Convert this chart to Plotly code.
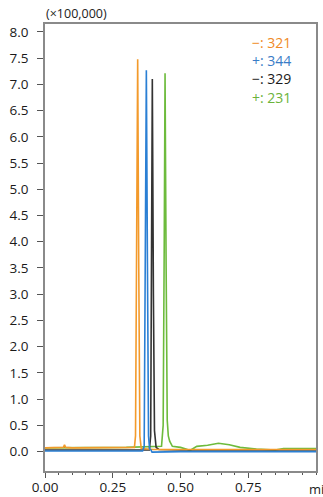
import plotly.graph_objects as go

# ---- data ----
t_321 = [0, 0.05, 0.068, 0.072, 0.076, 0.1, 0.2, 0.3, 0.33, 0.334, 0.338, 0.342, 0.346, 0.35, 0.355, 0.4, 0.5, 0.6, 0.7, 0.8, 0.9, 1.0]
y_321 = [0.07, 0.07, 0.08, 0.13, 0.08, 0.07, 0.07, 0.08, 0.08, 0.3, 4.0, 7.48, 3.5, 0.3, 0.06, 0.04, 0.04, 0.04, 0.04, 0.04, 0.04, 0.04]

t_344 = [0, 0.2, 0.36, 0.366, 0.370, 0.374, 0.378, 0.382, 0.386, 0.39, 0.395, 0.5, 0.7, 1.0]
y_344 = [0.01, 0.01, 0.01, 0.1, 3.8, 7.27, 3.6, 0.3, 0.05, 0.04, -0.01, 0.0, 0.0, 0.0]

t_329 = [0, 0.2, 0.385, 0.39, 0.393, 0.396, 0.4, 0.404, 0.41, 0.42, 0.5, 0.6, 0.8, 1.0]
y_329 = [0.03, 0.03, 0.03, 0.3, 4.0, 7.10, 3.0, 0.4, 0.08, 0.04, 0.03, 0.03, 0.03, 0.03]

t_231 = [0, 0.1, 0.3, 0.43, 0.436, 0.44, 0.443, 0.447, 0.451, 0.455, 0.46, 0.47, 0.5, 0.52, 0.535, 0.56, 0.6, 0.64, 0.68, 0.72, 0.78, 0.85, 0.88, 0.95, 1.0]
y_231 = [0.07, 0.07, 0.08, 0.1, 0.5, 4.0, 7.21, 3.5, 0.6, 0.3, 0.2, 0.1, 0.08, 0.05, 0.02, 0.1, 0.12, 0.16, 0.13, 0.08, 0.05, 0.03, 0.06, 0.06, 0.06]

legend_labels = ["−: 321", "+: 344", "−: 329", "+: 231"]

x_ticks = [0.0, 0.25, 0.5, 0.75]
x_ticklabels = ["0.00", "0.25", "0.50", "0.75"]
y_ticks = [0.0, 0.5, 1.0, 1.5, 2.0, 2.5, 3.0, 3.5, 4.0, 4.5, 5.0, 5.5, 6.0, 6.5, 7.0, 7.5, 8.0]

colors = ["#F39A2B", "#2A7FD4", "#333333", "#6DBB3C"]
text_colors = ["#F08A26", "#3A7CC7", "#1a1a1a", "#6BB33A"]

series = [(t_321, y_321), (t_344, y_344), (t_329, y_329), (t_231, y_231)]

fig = go.Figure()
# draw order: green and black below, orange/blue on top
for idx in [3, 2, 0, 1]:
    t, y = series[idx]
    fig.add_trace(go.Scatter(x=t, y=y, mode="lines",
                             line=dict(color=colors[idx], width=1.6),
                             showlegend=False, hoverinfo="skip"))

font = "Open Sans, Noto Sans, sans-serif"

legend_text = "<br>".join(
    f"<span style='color:{c}'>{lbl}</span>" for lbl, c in zip(legend_labels, text_colors)
)
fig.add_annotation(x=0.756, y=7.82, xref="x", yref="y", text=legend_text,
                   showarrow=False, xanchor="left", yanchor="top", yshift=10,
                   align="left",
                   font=dict(family=font, size=14))

fig.add_annotation(x=-0.005, y=1.0, xref="paper", yref="paper", text="(×100,000)",
                   showarrow=False, xanchor="left", yanchor="bottom", yshift=0,
                   font=dict(family=font, size=12.5, color="#222"))
fig.add_annotation(x=0.968, y=0, xref="paper", yref="paper", text="min",
                   showarrow=False, xanchor="left", yanchor="top", yshift=-7,
                   font=dict(family=font, size=13, color="#222"))

fig.update_layout(
    width=323, height=497,
    margin=dict(l=45, r=7, t=24, b=26),
    paper_bgcolor="white", plot_bgcolor="white",
    font=dict(family=font, size=13, color="#1a1a1a"),
    xaxis=dict(range=[0, 1.0], tickvals=x_ticks, ticktext=x_ticklabels,
               automargin=False,
               showgrid=False, zeroline=False, showline=True, mirror=True,
               linecolor="#8a8a8a", linewidth=1.5,
               ticks="outside", ticklen=5, tickcolor="#555", tickwidth=1,
               minor=dict(dtick=0.05, tick0=0, ticks="outside", ticklen=2, tickcolor="#555"),
               ticklabelstandoff=-2,
               tickfont=dict(size=13.5)),
    yaxis=dict(range=[-0.37, 8.15], tickvals=y_ticks, automargin=False,
               tickformat=".1f", showgrid=False, zeroline=False,
               showline=True, mirror=True, linecolor="#8a8a8a", linewidth=1.5,
               ticks="outside", ticklen=6, tickcolor="#555", tickwidth=1,
               ticklabelstandoff=6, tickfont=dict(size=13.5)),
)

fig.write_html("out.html")
